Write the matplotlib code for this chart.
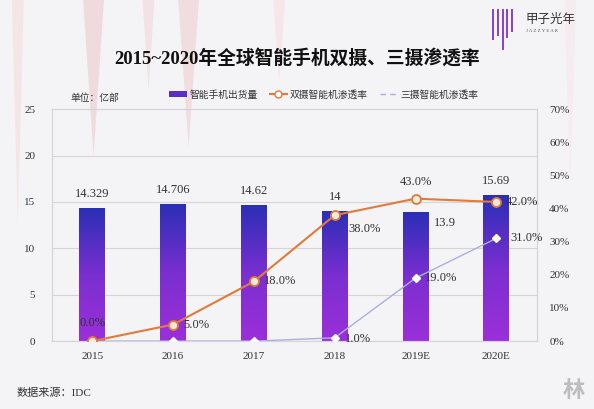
import matplotlib
matplotlib.use('Agg')
import matplotlib.pyplot as plt
import numpy as np
from matplotlib.colors import LinearSegmentedColormap
from matplotlib.lines import Line2D
from matplotlib.patches import Patch, Polygon

plt.rcParams['font.family'] = ['Liberation Serif', 'Noto Sans CJK SC', 'DejaVu Sans']

years = ['2015', '2016', '2017', '2018', '2019E', '2020E']
shipments = [14.329, 14.706, 14.62, 14, 13.9, 15.69]
ship_labels = ['14.329', '14.706', '14.62', '14', '13.9', '15.69']
dual_rate = [0.0, 5.0, 18.0, 38.0, 43.0, 42.0]
triple_rate = [0.0, 0.0, 0.0, 1.0, 19.0, 31.0]

bg = '#f4f3f5'
orange = '#e07b3a'
lav = '#aab0df'
grid_c = '#d6d4d8'
txt = '#333333'

fig = plt.figure(figsize=(5.94, 4.09), dpi=100, facecolor=bg)

# 背景の装飾（薄いピンクのとげ）
for x0, w, y1, c in [(0.02, 0.02, 0.45, '#f4e6e4'), (0.14, 0.035, 0.62, '#f0dadd'),
                     (0.24, 0.02, 0.78, '#f3e2e4'), (0.30, 0.035, 0.64, '#f1dde0'),
                     (0.46, 0.02, 0.80, '#f4e6e9'), (0.95, 0.02, 0.55, '#f6ebee')]:
    fig.patches.append(Polygon([[x0, 1.0], [x0 + w, 1.0], [x0 + w / 2, y1]],
                               closed=True, transform=fig.transFigure,
                               facecolor=c, edgecolor='none', zorder=-1))

ax = fig.add_axes([0.0875, 0.166, 0.816, 0.567])
ax.set_facecolor('none')
ax2 = ax.twinx()

x = np.arange(len(years))
w = 0.32
cmap = LinearSegmentedColormap.from_list('bar', ['#9b2fd9', '#7a2fd0', '#2b2eb6'])
grad = np.linspace(0, 1, 256).reshape(-1, 1)
for xi, h in zip(x, shipments):
    ax.imshow(grad, cmap=cmap, origin='lower', aspect='auto',
              extent=[xi - w / 2, xi + w / 2, 0, h], zorder=2)

ax.set_xlim(-0.5, 5.5)
ax.set_ylim(0, 25)
ax.set_yticks([0, 5, 10, 15, 20, 25])
ax.set_xticks(x)
ax.set_xticklabels(years)
ax.grid(axis='y', color=grid_c, lw=0.8, zorder=0)
ax.set_axisbelow(True)
ax.tick_params(axis='both', length=0, labelsize=8, colors=txt, pad=8)
ax.tick_params(axis='y', pad=12)
for s in ['left', 'bottom', 'right', 'top']:
    ax.spines[s].set_color(grid_c)
ax2.set_ylim(0, 70)
ax2.set_yticks(range(0, 80, 10))
ax2.set_yticklabels([f'{v}%' for v in range(0, 80, 10)])
ax2.tick_params(axis='y', length=0, labelsize=8, colors=txt, pad=9)
for s in ['left', 'bottom', 'right', 'top']:
    ax2.spines[s].set_color(grid_c)

# 棒の数値
for i, (h, lab) in enumerate(zip(shipments, ship_labels)):
    if i == 4:
        ax.annotate(lab, (x[i] + w / 2, h), xytext=(4, -8), textcoords='offset points',
                    ha='left', va='center', fontsize=9, color=txt, zorder=6)
    else:
        ax.annotate(lab, (x[i], h), xytext=(0, 6), textcoords='offset points',
                    ha='center', va='bottom', fontsize=9, color=txt, zorder=6)

ax2.plot(x, triple_rate, color=lav, lw=1.0, marker='D', ms=4, mfc='white',
         mec='white', zorder=4)
ax2.plot(x, dual_rate, color=orange, lw=1.5, marker='o', ms=6.5, mfc='#fbe9dc',
         mec=orange, mew=1.3, zorder=5)

dual_off = [(0, 13), (7, 0), (7, 0), (10, -10), (0, 12), (7, 0)]
for i, v in enumerate(dual_rate):
    dx, dy = dual_off[i]
    ha = 'center' if dx == 0 else 'left'
    ax2.annotate(f'{v:.1f}%', (x[i], v), xytext=(dx, dy), textcoords='offset points',
                 ha=ha, va='center', fontsize=9, color=txt, zorder=6)
for i, dx in zip([3, 4, 5], [7, 7, 10]):
    v = triple_rate[i]
    ax2.annotate(f'{v:.1f}%', (x[i], v), xytext=(dx, -1 if i == 3 else 0),
                 textcoords='offset points', ha='left', va='center',
                 fontsize=9, color=txt, zorder=6)

# 凡例
handles = [Patch(facecolor='#5a2cc8', edgecolor='none'),
           Line2D([], [], color=orange, lw=1.5, marker='o', ms=5, mfc='white', mec=orange),
           Line2D([], [], color=lav, lw=1.0, ls=(0, (4, 3)))]
labels = ['智能手机出货量', '双摄智能机渗透率', '三摄智能机渗透率']
fig.legend(handles, labels, loc='center', bbox_to_anchor=(0.545, 0.768), ncol=3,
           frameon=False, fontsize=7, handlelength=1.8, handleheight=0.6,
           columnspacing=1.2, handletextpad=0.3, labelcolor=txt)

fig.text(0.118, 0.76, '单位：亿部', fontsize=7, color=txt, ha='left', va='center')
fig.text(0.5, 0.858, '2015~2020年全球智能手机双摄、三摄渗透率', fontsize=13.5,
         fontweight='bold', ha='center', va='center', color='#111111')
fig.text(0.028, 0.04, '数据来源：IDC', fontsize=8, color=txt, ha='left', va='center')
fig.text(0.965, 0.045, '林', fontsize=16, color='#bdbdbd', fontweight='bold',
         ha='center', va='center', family=['Noto Sans CJK SC'])

# ロゴ
for k, (lx, ly) in enumerate([(0.83, 0.905), (0.838, 0.915), (0.846, 0.88),
                              (0.854, 0.91), (0.862, 0.925)]):
    fig.add_artist(Line2D([lx, lx], [0.975, ly], color='#8a3fc8', lw=1.4,
                          transform=fig.transFigure))
fig.text(0.885, 0.952, '甲子光年', fontsize=9, color='#333333', ha='left', va='center',
         family=['Noto Sans CJK SC'])
fig.text(0.885, 0.925, 'J A Z Z Y E A R', fontsize=3.5, color='#555555',
         ha='left', va='center')

fig.savefig('out.png', dpi=100, facecolor=bg)
